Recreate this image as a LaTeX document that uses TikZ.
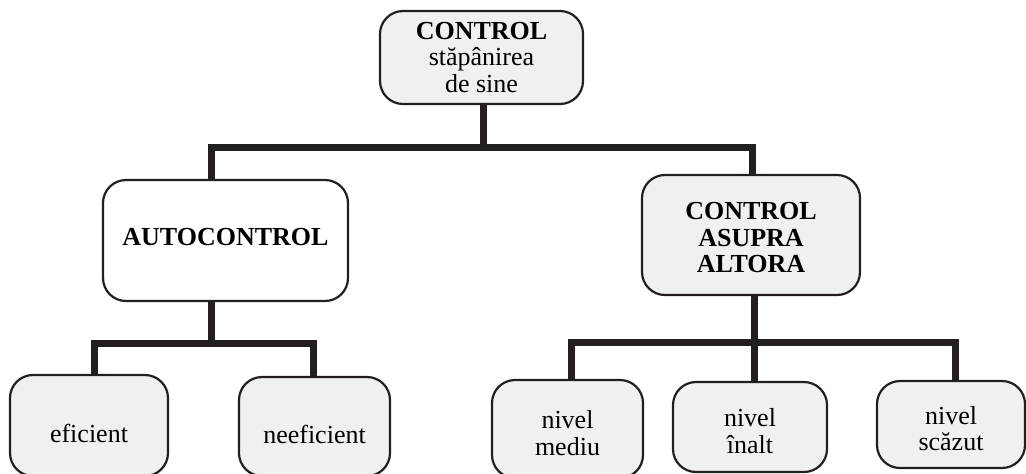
\documentclass[tikz,border=0pt]{standalone}
\usepackage{fontspec}
\setmainfont{Liberation Serif}
\usepackage{tikz}
\usetikzlibrary{positioning,calc}
\definecolor{boxgrey}{HTML}{EFF0F2}
\definecolor{linkblack}{HTML}{231F20}

\begin{document}
\begin{tikzpicture}[x=0.5pt, y=-0.5pt,
    box/.style={draw=linkblack, line width=1.1pt, rounded corners=11.5pt, fill=white,
      align=center, inner sep=2pt, font=\fontsize{13}{13.3}\selectfont},
    greybox/.style={box, fill=boxgrey},
    leaf/.style={greybox, text height=16.5pt, text depth=0pt},
    twoleaf/.style={greybox, text height=26.5pt},
    link/.style={draw=linkblack, line width=3.5pt, line join=miter}]
  \useasboundingbox (0,0) rectangle (1026,473);
  % top of the tree
  \node[greybox, minimum width=101.5pt, minimum height=46.5pt] (ctrl) at (481.5,57.5)
    {\textbf{CONTROL}\\st\u{a}p\^anirea\\de sine};
  % second level
  \node[box, minimum width=122.5pt, minimum height=60.5pt, text depth=4pt] (auto) at (225.5,240.5)
    {\textbf{AUTOCONTROL}};
  \node[greybox, minimum width=109pt, minimum height=60pt, text height=38pt] (asupra) at (751,235)
    {\textbf{CONTROL}\\\textbf{ASUPRA}\\\textbf{ALTORA}};
  % leaves
  \node[leaf, minimum width=79pt, minimum height=50.5pt] (efic) at (89,425.5) {eficient};
  \node[leaf, minimum width=75.5pt, minimum height=49.5pt] (neef) at (314.5,426.5) {neeficient};
  \node[twoleaf, minimum width=75.5pt, minimum height=49pt] (mediu) at (567.5,429) {nivel\\mediu};
  \node[twoleaf, minimum width=77pt, minimum height=45pt] (inalt) at (750,427) {nivel\\\^inalt};
  \node[twoleaf, minimum width=74pt, minimum height=43.5pt] (scazut) at (951,424.5) {nivel\\sc\u{a}zut};
  % connectors
  \coordinate (j1) at (483,147);
  \coordinate (j2) at (211,343);
  \coordinate (j3) at (754,342);
  \draw[link] (ctrl.south -| j1) -- (j1);
  \draw[link] ([xshift=-7.25pt]auto.north) |- (j1) -| ([xshift=0.5pt]asupra.north);
  \draw[link] ([xshift=-7.25pt]auto.south) -- (j2);
  \draw[link] ([xshift=2.5pt]efic.north) |- (j2) -| ([xshift=-0.75pt]neef.north);
  \draw[link] (asupra.south -| j3) -- (j3) -- (inalt.north -| j3);
  \draw[link] ([xshift=1.75pt]mediu.north) |- (j3) -| ([xshift=2pt]scazut.north);
\end{tikzpicture}
\end{document}
